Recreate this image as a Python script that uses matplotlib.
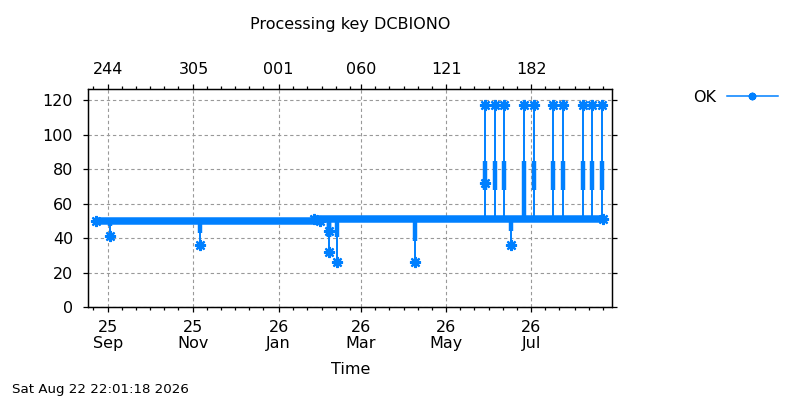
import matplotlib
matplotlib.use('Agg')
import matplotlib.pyplot as plt
import matplotlib.dates as mdates
import pandas as pd

# dense baseline of the "OK" series, one level per period
base_start = ['2025-08-23 00:00', '2026-01-26 00:00']
base_end = ['2026-01-30 12:00', '2026-08-21 10:00']
base_level = [50, 51]

# downward excursions: date, lowest value, end of the thick part of the stem
dip_dates = ['2025-09-02 00:00', '2025-11-06 00:00', '2026-02-06 06:00',
             '2026-02-06 06:00', '2026-02-11 14:00', '2026-04-08 10:00',
             '2026-06-16 12:00']
dip_values = [41.5, 36, 44.5, 32, 26.5, 26.5, 36]
dip_thick = [47, 43, 41, 41, 41, 38.5, 44]

# upward excursions: date, peak value, thick part of the stem
spike_dates = ['2026-05-28 18:00', '2026-06-05 00:00', '2026-06-11 06:00',
               '2026-06-25 14:00', '2026-07-02 16:00', '2026-07-16 08:00',
               '2026-07-23 12:00', '2026-08-06 20:00', '2026-08-13 12:00',
               '2026-08-20 16:00']
spike_peak = [117, 117, 117, 117, 117, 117, 117, 117, 117, 117]
spike_mid_lo = [68, 68, 68, 52, 68, 68, 68, 68, 68, 68]
spike_mid_hi = [85, 85, 85, 85, 85, 85, 85, 85, 85, 85]

extra_dates = ['2026-05-28 18:00']
extra_values = [72]

x_min = '2025-08-17 17:00'
x_max = '2026-08-28 00:00'
title = 'Processing key DCBIONO'
stamp = 'Sat Aug 22 22:01:18 2026'

colour = '#0080ff'
star = (8, 2, 0)
fs = 11.5

fig = plt.figure(figsize=(8, 4), dpi=100)
ax = fig.add_axes([0.1104, 0.2318, 0.655, 0.545])

for s, e, lvl in zip(base_start, base_end, base_level):
    ax.plot(pd.to_datetime([s, e]), [lvl, lvl], color=colour, lw=5.4,
            solid_capstyle='butt', marker=star, ms=8, mew=1.6)

for d, v, t in zip(dip_dates, dip_values, dip_thick):
    d = pd.to_datetime(d)
    ax.vlines(d, t, 50, color=colour, lw=3.2)
    ax.vlines(d, v, 50, color=colour, lw=1.4)
    ax.plot([d], [v], color=colour, marker=star, ms=8, mew=1.6)

for d, p, lo, hi in zip(spike_dates, spike_peak, spike_mid_lo, spike_mid_hi):
    d = pd.to_datetime(d)
    ax.vlines(d, 50, p, color=colour, lw=1.4)
    ax.vlines(d, lo, hi, color=colour, lw=3.2)
    ax.plot([d], [p], color=colour, marker=star, ms=8, mew=1.6)

ax.plot(pd.to_datetime(extra_dates), extra_values, ls='none', color=colour,
        marker=star, ms=8, mew=1.6)

# legend handle only
ax.plot([], [], color=colour, lw=1.1, marker=star, ms=5.5, mew=1.4, label='OK')

ax.set_xlim(pd.to_datetime(x_min), pd.to_datetime(x_max))
ax.set_ylim(0, 126.4)
ax.set_yticks([0, 20, 40, 60, 80, 100, 120])

ax.xaxis.set_major_locator(mdates.MonthLocator(bymonth=[1, 3, 5, 7, 9, 11]))
ax.xaxis.set_minor_locator(mdates.DayLocator(bymonthday=[1, 11, 21]))
ax.xaxis.set_major_formatter(mdates.DateFormatter('%y\n%b'))

ax2 = ax.twiny()
ax2.set_xlim(ax.get_xlim())
ax2.xaxis.set_major_locator(mdates.MonthLocator(bymonth=[1, 3, 5, 7, 9, 11]))
ax2.xaxis.set_minor_locator(mdates.DayLocator(bymonthday=[1, 11, 21]))
ax2.xaxis.set_major_formatter(mdates.DateFormatter('%j'))

ax.yaxis.set_ticks_position('both')
for a in (ax, ax2):
    a.tick_params(axis='x', which='major', length=3.5, width=0.9, pad=5.5, labelsize=fs)
    a.tick_params(axis='x', which='minor', length=2, width=0.9)
    for sp in a.spines.values():
        sp.set_linewidth(0.9)
ax.tick_params(axis='y', length=3.5, width=0.9, pad=7.5, labelsize=fs)
for lab in ax.get_xticklabels():
    lab.set_linespacing(1.1)

ax.grid(True, which='major', color='#999999', lw=0.8, linestyle=(0, (3, 2.5)))

fig.text(0.4379, 1 - 24 / 400, title, ha='center', va='center', fontsize=fs)
fig.text(0.4379, 1 - 370 / 400, 'Time', ha='center', va='center', fontsize=fs)
fig.text(12 / 800, 1 - 390 / 400, stamp, ha='left', va='center', fontsize=9.6)

ax.legend(loc='center right', bbox_to_anchor=(778 / 800, 1 - 97 / 400),
          bbox_transform=fig.transFigure, markerfirst=False, frameon=False,
          handlelength=3.2, handletextpad=0.7, borderpad=0, borderaxespad=0,
          fontsize=fs)

fig.savefig('out.png', dpi=100)
